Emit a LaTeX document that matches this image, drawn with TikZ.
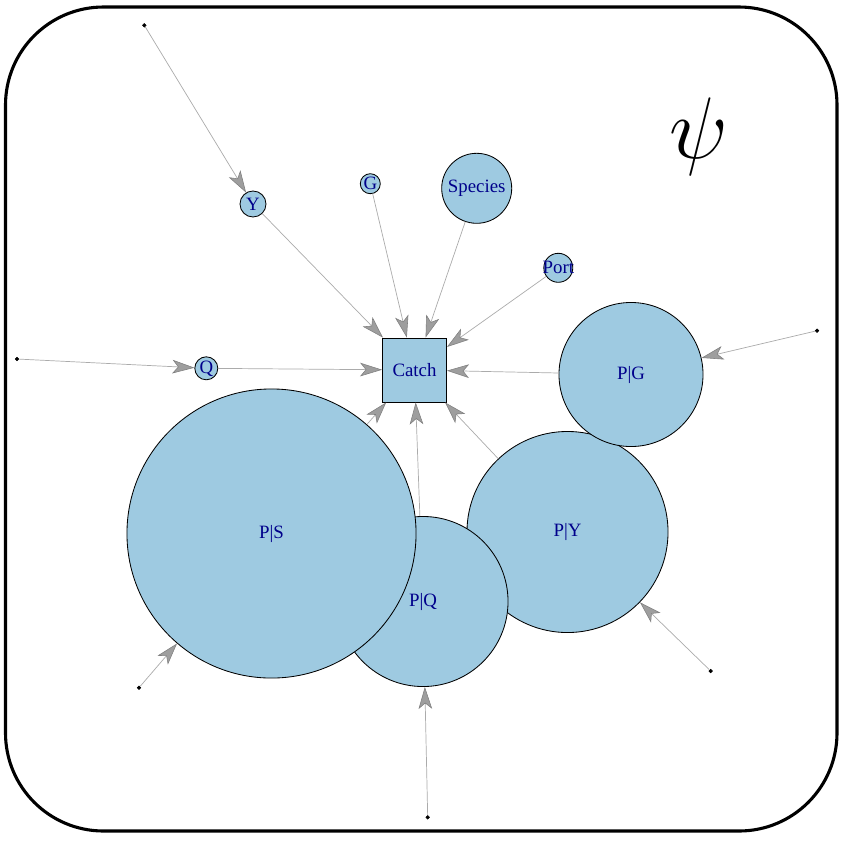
\documentclass[tikz,border=0pt]{standalone}
\usepackage{fontspec}
\setmainfont{Liberation Serif}
\usepackage{xcolor}
\usepackage{tikz}
\usetikzlibrary{arrows.meta,positioning}
\definecolor{nodeblue}{HTML}{9ECAE1}
\definecolor{labelblue}{HTML}{00008B}
\newcommand{\lblfont}{\fontsize{13.4}{16}\selectfont}

\begin{document}
\begin{tikzpicture}[x=0.025cm,y=-0.025cm,
    var/.style={circle,draw=black,line width=0.6pt,fill=nodeblue,inner sep=0pt,minimum size=#1*0.05cm},
    lbl/.style={text=labelblue,font=\lblfont,inner sep=0pt},
    catchbox/.style={rectangle,draw=black,line width=0.6pt,fill=nodeblue,inner sep=0pt,minimum size=1.6cm,text=labelblue,font=\lblfont},
    endpt/.style={circle,draw=black,fill=black,inner sep=0pt,minimum size=0.09cm},
    edge/.style={draw=black!33,line width=0.5pt,-{Stealth[length=0.55cm,width=0.34cm,inset=0.14cm,fill=black!38,color=black!50,line width=0.4pt]}}]

  \useasboundingbox (0,0) rectangle (846,843);
  \draw[line width=2.2pt,rounded corners=2.45cm] (5.5,7) rectangle (837,831);

  \node at (699,137) (psi) {\Huge\scalebox{2.5}{$\psi$}};

  % parent nodes, big ones first
  \node[var=100.5, label={[lbl]center:P|Y}] at (567.5,532) (PY) {};
  \node[var=72, label={[lbl]center:P|G}] at (631,374.5) (PG) {};
  \node[var=85, label={[lbl]center:P|Q}] at (423,601.5) (PQ) {};
  \node[var=144.5, label={[lbl]center:P|S}] at (271.5,533.5) (PS) {};

  \node[var=13, label={[lbl]center:Y}] at (253,204) (Y) {};
  \node[var=10, label={[lbl]center:G}] at (370.3,183.7) (G) {};
  \node[var=35, label={[lbl]center:Species}] at (476.7,188.3) (Species) {};
  \node[var=14.5, label={[lbl]center:Port}] at (558.3,267.8) (Port) {};
  \node[var=11.5, label={[lbl]center:Q}] at (206.3,368.3) (Q) {};

  \node[catchbox] at (414.5,370) (Catch) {Catch};

  % free ends
  \node[endpt] at (144.3,25.3) (dY) {};
  \node[endpt] at (17,359) (dQ) {};
  \node[endpt] at (817,330.7) (dPG) {};
  \node[endpt] at (139,687.7) (dPS) {};
  \node[endpt] at (710.7,671) (dPY) {};
  \node[endpt] at (427.7,817.3) (dPQ) {};

  \draw[edge] (dY) -- (Y);
  \draw[edge] (dQ) -- (Q);
  \draw[edge] (dPG) -- (PG);
  \draw[edge] (dPS) -- (PS);
  \draw[edge] (dPY) -- (PY);
  \draw[edge] (dPQ) -- (PQ);

  \draw[edge] (Y) -- (Catch);
  \draw[edge] (G) -- (Catch);
  \draw[edge] (Species) -- (Catch);
  \draw[edge] (Port) -- (Catch);
  \draw[edge] (Q) -- (Catch);
  \draw[edge] (PG) -- (Catch);
  \draw[edge] (PS) -- (Catch);
  \draw[edge] (PQ) -- (Catch);
  \draw[edge] (PY) -- (Catch);

\end{tikzpicture}
\end{document}
